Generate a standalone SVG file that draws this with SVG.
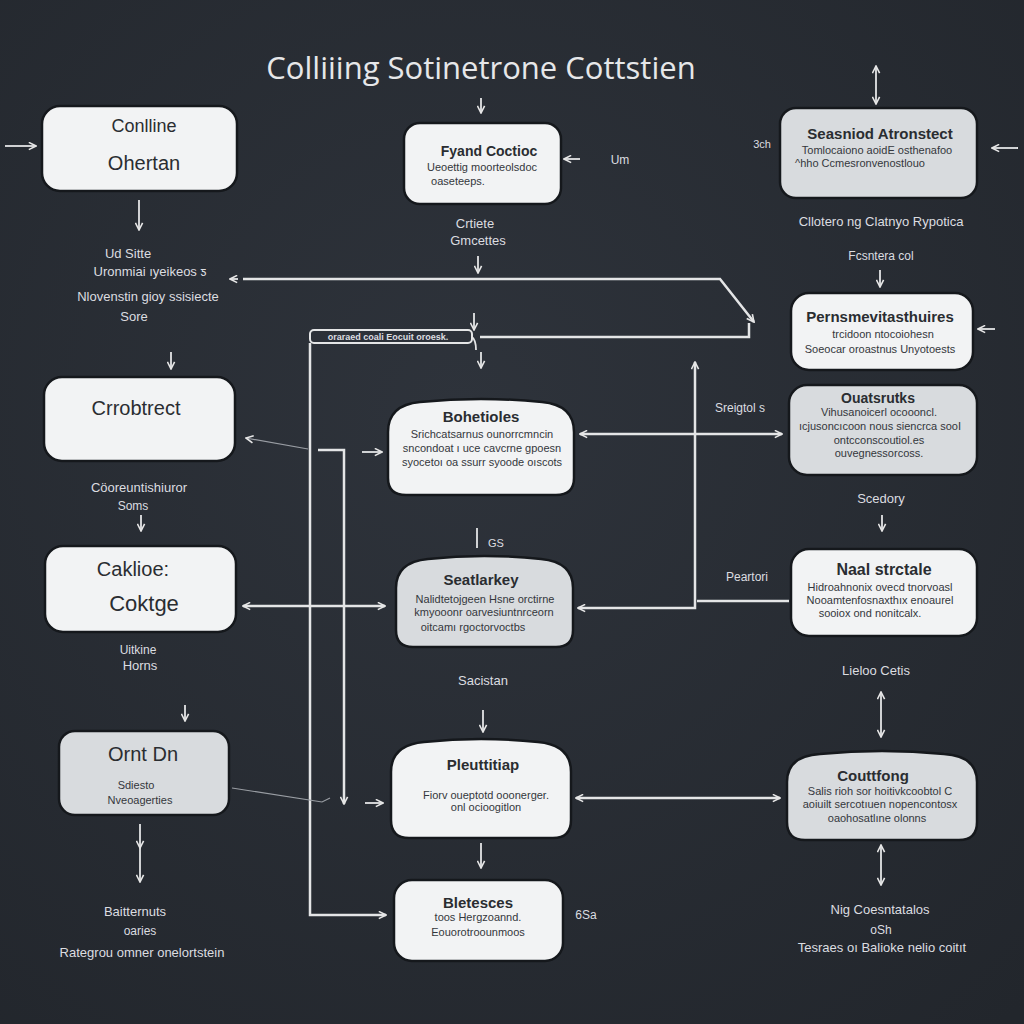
<svg xmlns="http://www.w3.org/2000/svg" width="1024" height="1024" viewBox="0 0 1024 1024">
<defs>
<radialGradient id="bg" cx="0.45" cy="0.4" r="0.8">
<stop offset="0" stop-color="#2e333b"/>
<stop offset="1" stop-color="#22262c"/>
</radialGradient>
<marker id="ah" viewBox="0 0 10 10" refX="9" refY="5" markerWidth="9" markerHeight="9" markerUnits="userSpaceOnUse" orient="auto-start-reverse">
<path d="M1,1 L9,5 L1,9" fill="none" stroke="#e6e6e6" stroke-width="1.8"/>
</marker>
<style>
.n{fill:#f2f3f4;stroke:#15181c;stroke-width:2.5}
.g{fill:#d8dbde;stroke:#15181c;stroke-width:2.5}
.c{fill:none;stroke:#e4e5e6;stroke-width:2.5}
.t{fill:none;stroke:#9a9ea4;stroke-width:1.2}
.a{fill:none;stroke:#e4e5e6;stroke-width:1.8}
text{font-family:"Liberation Sans",Arial,sans-serif;text-anchor:middle}
.h{fill:#2a2d31;font-weight:bold;font-size:15px}
.hb{fill:#2a2d31;font-size:20px}
.s{fill:#34373c;font-size:11px}
.l{fill:#dcdde0;font-size:13px}
</style>
</defs>
<rect width="1024" height="1024" fill="url(#bg)"/>
<text x="481" y="79" style="fill:#e6e7e9;font-size:31px;font-family:'Open Sans','Liberation Sans',sans-serif">Colliiing Sotinetrone Cottstien</text>

<g id="labels">
<text class="l" x="128" y="258">Ud  Sitte</text>
<text class="l" x="150" y="276">Uronmiai ıyeikeos ƽ</text>
<text class="l" x="148" y="301">Nlovenstin gioy ssisiecte</text>
<text class="l" x="134" y="321">Sore</text>
<text class="l" x="475" y="228">Crtiete</text>
<text class="l" x="478" y="245">Gmcettes</text>
<text class="l" x="620" y="164" style="font-size:12px">Um</text>
<text class="l" x="762" y="148" style="font-size:11px">3ch</text>
<text class="l" x="881" y="226">Cllotero ng  Clatnyo Rypotica</text>
<text class="l" x="881" y="260" style="font-size:12px">Fcsntera col</text>
<text class="l" x="139" y="492">Cöoreuntishiuror</text>
<text class="l" x="133" y="510" style="font-size:12px">Soms</text>
<text class="l" x="740" y="412" style="font-size:12px">Sreigtol s</text>
<text class="l" x="881" y="503">Scedory</text>
<text class="l" x="496" y="547" style="font-size:11px">GS</text>
<text class="l" x="747" y="581" style="font-size:12px">Peartori</text>
<text class="l" x="138" y="654" style="font-size:12px">Uitkine</text>
<text class="l" x="140" y="670">Horns</text>
<text class="l" x="483" y="685">Sacistan</text>
<text class="l" x="876" y="675">Lieloo Cetis</text>
<text class="l" x="135" y="916">Baitternuts</text>
<text class="l" x="140" y="935" style="font-size:12px">oaries</text>
<text class="l" x="142" y="957">Rategrou omner onelortstein</text>
<text class="l" x="586" y="919" style="font-size:12px">6Sa</text>
<text class="l" x="880" y="914">Nig Coesntatalos</text>
<text class="l" x="881" y="934" style="font-size:12px">oSh</text>
<text class="l" x="882" y="952">Tesraes oı Balioke nelio coitıt</text>
</g>

<g id="connectors">
<line class="a" x1="5" y1="146" x2="36" y2="146" marker-end="url(#ah)"/>
<line class="a" x1="139" y1="200" x2="139" y2="230" marker-end="url(#ah)"/>
<line class="a" x1="481" y1="98" x2="481" y2="113" marker-end="url(#ah)"/>
<line class="a" x1="580" y1="159" x2="564" y2="159" marker-end="url(#ah)"/>
<line class="a" x1="876" y1="66" x2="876" y2="104" marker-start="url(#ah)" marker-end="url(#ah)"/>
<line class="a" x1="1018" y1="148" x2="992" y2="148" marker-end="url(#ah)"/>
<line class="a" x1="478" y1="256" x2="478" y2="273" marker-end="url(#ah)"/>
<line class="a" x1="880" y1="270" x2="880" y2="287" marker-end="url(#ah)"/>
<line class="a" x1="995" y1="329" x2="978" y2="329" marker-end="url(#ah)"/>
<path class="c" d="M243,279 H720 L754,322" marker-end="url(#ah)"/>
<line class="a" x1="238" y1="279" x2="230" y2="279" marker-end="url(#ah)"/>
<path class="c" d="M480,337 H749 V323"/>
<rect x="310" y="330" width="162" height="13" rx="4" fill="none" stroke="#e4e5e6" stroke-width="2"/>
<text x="388" y="340" style="fill:#dcdde0;font-size:9px;font-weight:bold">oraraed coali Eocuit oroesk.</text>
<line class="a" x1="474" y1="313" x2="474" y2="330" marker-end="url(#ah)"/>
<path class="a" d="M472,337 Q476,340 476,350"/>
<line class="a" x1="481" y1="352" x2="481" y2="368" marker-end="url(#ah)"/>
<path class="c" d="M310,343 V915 H386" marker-end="url(#ah)"/>
<line class="a" x1="171" y1="352" x2="171" y2="369" marker-end="url(#ah)"/>
<line class="t" x1="308" y1="449" x2="246" y2="438" marker-end="url(#ah)"/>
<path class="c" d="M318,450 H344 V804" marker-end="url(#ah)"/>
<line class="a" x1="362" y1="452" x2="382" y2="452" marker-end="url(#ah)"/>
<line class="c" x1="580" y1="434" x2="782" y2="434" marker-start="url(#ah)" marker-end="url(#ah)"/>
<path class="c" d="M695,362 V608 H578" marker-start="url(#ah)" marker-end="url(#ah)"/>
<line class="c" x1="697" y1="601" x2="789" y2="601"/>
<line class="a" x1="141" y1="515" x2="141" y2="531" marker-end="url(#ah)"/>
<line class="c" x1="243" y1="606" x2="385" y2="606" marker-start="url(#ah)" marker-end="url(#ah)"/>
<line class="a" x1="185" y1="705" x2="185" y2="721" marker-end="url(#ah)"/>
<line class="a" x1="140" y1="824" x2="140" y2="848" marker-end="url(#ah)"/>
<line class="a" x1="140" y1="848" x2="140" y2="882" marker-end="url(#ah)"/>
<path class="t" d="M232,788 L322,802 L330,798"/>
<line class="a" x1="365" y1="803" x2="383" y2="803" marker-end="url(#ah)"/>
<line class="a" x1="477" y1="528" x2="477" y2="548"/>
<line class="a" x1="483" y1="710" x2="483" y2="732" marker-end="url(#ah)"/>
<line class="c" x1="576" y1="798" x2="780" y2="798" marker-start="url(#ah)" marker-end="url(#ah)"/>
<line class="a" x1="481" y1="843" x2="481" y2="868" marker-end="url(#ah)"/>
<line class="a" x1="882" y1="515" x2="882" y2="531" marker-end="url(#ah)"/>
<line class="a" x1="881" y1="692" x2="881" y2="737" marker-start="url(#ah)" marker-end="url(#ah)"/>
<line class="a" x1="881" y1="845" x2="881" y2="885" marker-start="url(#ah)" marker-end="url(#ah)"/>
</g>

<g id="node1">
<rect class="n" x="42" y="106" width="195" height="85" rx="18"/>
<text x="144" y="132" style="fill:#2a2d31;font-size:18px">Conlline</text>
<text x="144" y="170" class="hb">Ohertan</text>
</g>
<g id="node2">
<rect class="n" x="404" y="123" width="157" height="81" rx="16"/>
<text class="h" x="489" y="156" style="font-size:14px">Fyand Coctioc</text>
<text class="s" x="482" y="171">Ueoettig moorteolsdoc</text>
<text class="s" x="458" y="185">oaseteeps.</text>
</g>
<g id="node3">
<rect class="g" x="780" y="108" width="197" height="90" rx="16"/>
<text class="h" x="880" y="139">Seasniod Atronstect</text>
<text class="s" x="877" y="154">Tomlocaiono aoidE osthenafoo</text>
<text class="s" x="860" y="167">^hho Ccmesronvenostlouo</text>
</g>
<g id="node4">
<rect class="n" x="791" y="293" width="182" height="77" rx="18"/>
<text class="h" x="880" y="322">Pernsmevitasthuires</text>
<text class="s" x="883" y="338">trcidoon ntocoiohesn</text>
<text class="s" x="880" y="353">Soeocar oroastnus Unyotoests</text>
</g>
<g id="node5">
<rect class="n" x="44" y="377" width="191" height="84" rx="18"/>
<text class="hb" x="136" y="415">Crrobtrect</text>
</g>
<g id="node6">
<path class="n" d="M388,432 Q388,405 420,402 Q481,396 542,402 Q574,405 574,432 V478 Q574,495 556,495 H406 Q388,495 388,478 Z"/>
<text class="h" x="481" y="422">Bohetioles</text>
<text class="s" x="482" y="438">Srichcatsarnus ounorrcmncin</text>
<text class="s" x="482" y="452">sncondoat ı uce cavcrne gpoesn</text>
<text class="s" x="482" y="466">syocetoı oa ssurr syoode oıscots</text>
</g>
<g id="node7">
<rect class="g" x="789" y="385" width="188" height="90" rx="18"/>
<text class="h" x="878" y="403" style="font-size:14px">Ouatsrutks</text>
<text class="s" x="879" y="416">Vihusanoicerl ocoooncl.</text>
<text class="s" x="880" y="430">ıcjusoncıcoon nous siencrca sooI</text>
<text class="s" x="879" y="444">ontcconscoutiol.es</text>
<text class="s" x="879" y="457">ouvegnessorcoss.</text>
</g>
<g id="node8">
<rect class="n" x="45" y="546" width="191" height="86" rx="18"/>
<text class="hb" x="133" y="576">Caklioe:</text>
<text class="hb" x="144" y="611" style="font-size:22px">Coktge</text>
</g>
<g id="node9">
<path class="g" d="M396,588 Q396,562 428,559 Q484,553 541,559 Q573,562 573,588 V630 Q573,647 556,647 H413 Q396,647 396,630 Z"/>
<text class="h" x="481" y="585">Seatlarkey</text>
<text class="s" x="485" y="603">Nalidtetojgeen Hsne orctirne</text>
<text class="s" x="484" y="616">kmyooonr oarvesiuntnrceorn</text>
<text class="s" x="473" y="631">oitcamı rgoctorvoctbs</text>
</g>
<g id="node10">
<rect class="n" x="791" y="549" width="186" height="87" rx="18"/>
<text class="h" x="884" y="575" style="font-size:16px">Naal strctale</text>
<text class="s" x="880" y="591">Hidroahnonix ovecd tnorvoasl</text>
<text class="s" x="880" y="604">Nooamtenfosnaxthıx enoaurel</text>
<text class="s" x="870" y="617">sooiox ond nonitcalx.</text>
</g>
<g id="node11">
<rect class="g" x="59" y="731" width="170" height="84" rx="16"/>
<text class="hb" x="143" y="761">Ornt Dn</text>
<text class="s" x="136" y="789">Sdiesto</text>
<text class="s" x="140" y="804">Nveoagerties</text>
</g>
<g id="node12">
<path class="n" d="M391,772 Q391,745 424,742 Q481,736 538,742 Q571,745 571,772 V820 Q571,838 553,838 H409 Q391,838 391,820 Z"/>
<text class="h" x="483" y="770">Pleuttitiap</text>
<text class="s" x="486" y="799">Fiorv oueptotd ooonerger.</text>
<text class="s" x="486" y="811">onl ocioogitlon</text>
</g>
<g id="node13">
<path class="g" d="M787,782 Q787,756 820,754 Q882,748 944,754 Q977,756 977,782 V822 Q977,840 959,840 H805 Q787,840 787,822 Z"/>
<text class="h" x="873" y="781">Couttfong</text>
<text class="s" x="880" y="795">Salis rioh sor hoitivkcoobtol C</text>
<text class="s" x="880" y="808">aoiuilt sercotıuen nopencontosx</text>
<text class="s" x="877" y="822">oaohosatlıne olonns</text>
</g>
<g id="node14">
<rect class="n" x="394" y="880" width="169" height="81" rx="18"/>
<text class="h" x="478" y="908">Bletesces</text>
<text class="s" x="478" y="921">toos Hergzoannd.</text>
<text class="s" x="478" y="936">Eouorotroounmoos</text>
</g>
</svg>
